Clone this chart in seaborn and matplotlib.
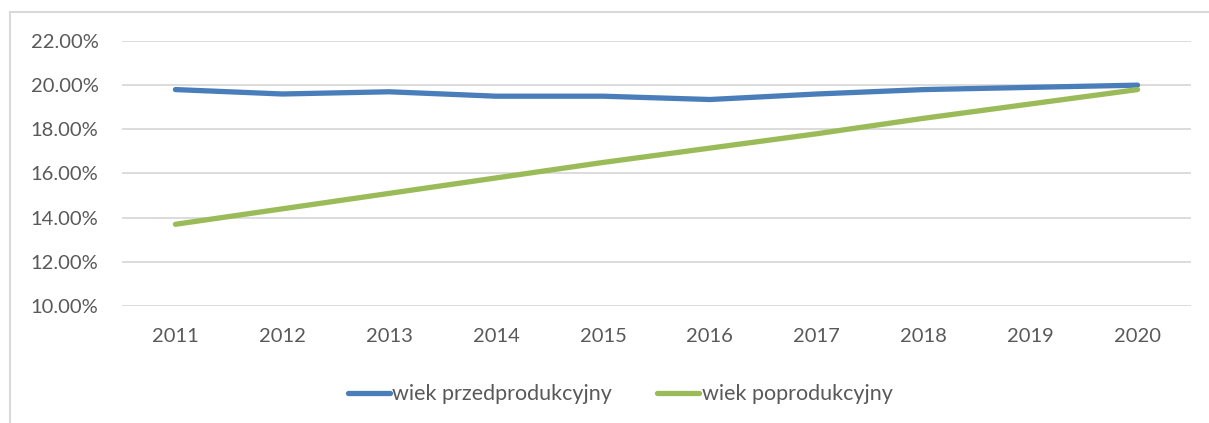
import pandas as pd
import seaborn as sns
import matplotlib.pyplot as plt
from matplotlib.patches import Rectangle
from matplotlib.ticker import FuncFormatter

# values (percent)
years = ['2011', '2012', '2013', '2014', '2015', '2016', '2017', '2018', '2019', '2020']
przedprodukcyjny = [19.8, 19.6, 19.7, 19.5, 19.5, 19.35, 19.6, 19.8, 19.9, 20.0]
poprodukcyjny = [13.7, 14.4, 15.1, 15.8, 16.5, 17.15, 17.8, 18.5, 19.15, 19.8]
series_names = ['wiek przedprodukcyjny', 'wiek poprodukcyjny']

df = pd.DataFrame({
    'rok': years * 2,
    'udzial': przedprodukcyjny + poprodukcyjny,
    'grupa': [series_names[0]] * len(years) + [series_names[1]] * len(years),
})

sns.set_theme(style='white')
plt.rcParams['font.family'] = ['Lato', 'DejaVu Sans']

fig = plt.figure(figsize=(12.09, 4.23), dpi=100)
ax = fig.add_axes([0.1009, 0.2766, 0.8842, 0.6265])

sns.lineplot(data=df, x='rok', y='udzial', hue='grupa',
             palette=['#4A7EBB', '#9BBB59'], linewidth=3.8, ax=ax,
             solid_capstyle='round')

ax.set_ylim(10, 22)
ax.set_yticks(range(10, 23, 2))
ax.yaxis.set_major_formatter(FuncFormatter(lambda v, p: f'{v:.2f}%'))
ax.set_xlim(-0.5, len(years) - 0.5)
ax.grid(axis='y', color='#D9D9D9', linewidth=1.3)
ax.set_axisbelow(True)
for s in ax.spines.values():
    s.set_visible(False)
ax.set_xlabel('')
ax.set_ylabel('')
ax.tick_params(axis='both', length=0, labelsize=14.5, colors='#595959')
ax.tick_params(axis='x', pad=16)
ax.tick_params(axis='y', pad=17)

leg = ax.legend(loc='upper center', bbox_to_anchor=(0.466, -0.222), ncol=2,
                frameon=False, fontsize=15.5, handlelength=1.95,
                handletextpad=0.12, columnspacing=2.1)
for t in leg.get_texts():
    t.set_color('#595959')
for h in leg.get_lines():
    h.set_linewidth(3.8)

# chart frame (runs off the right and bottom edge)
fig.patches.append(Rectangle((10 / 1209, -0.1), 1.2, 0.9716 + 0.1,
                             transform=fig.transFigure, fill=False,
                             edgecolor='#D9D9D9', linewidth=1.5))

fig.savefig('out.png', dpi=100)
